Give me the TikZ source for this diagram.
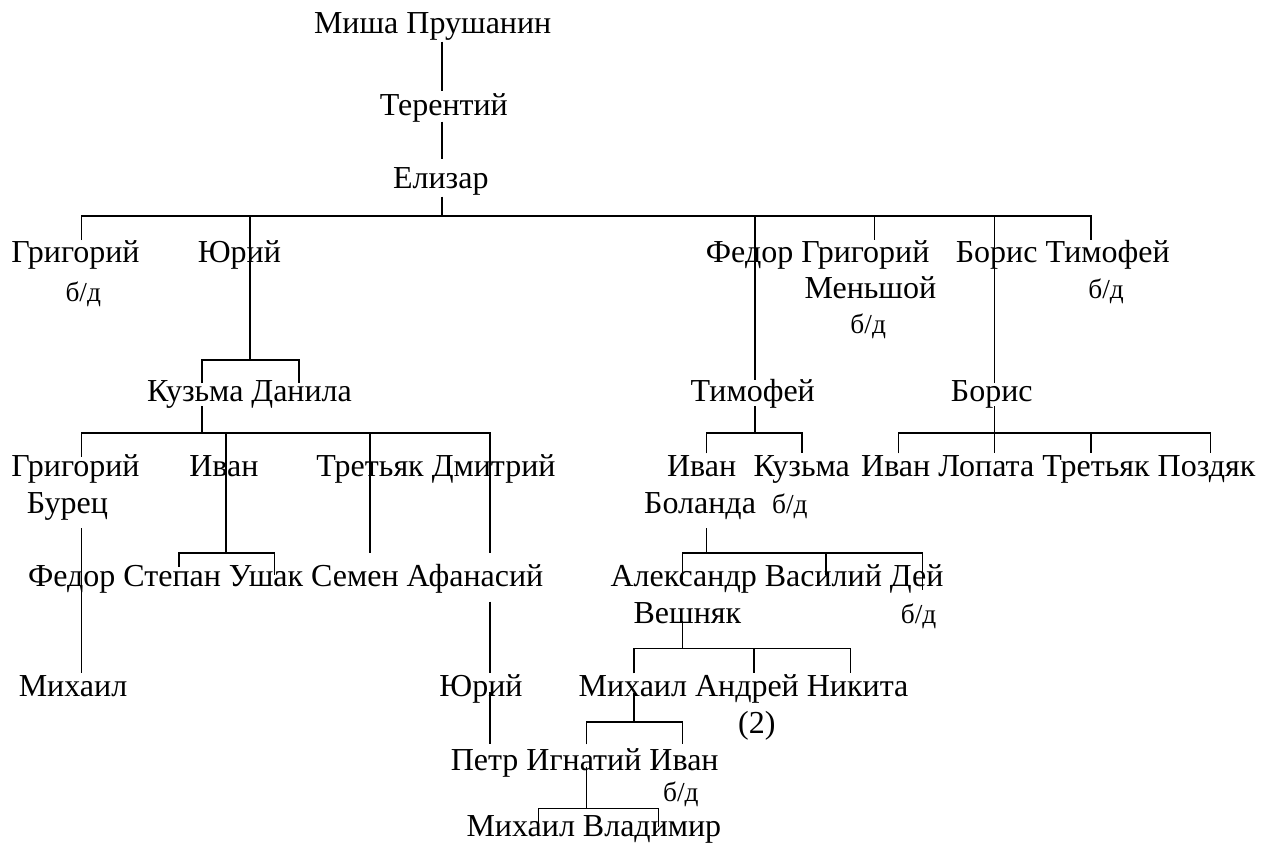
\documentclass[tikz,border=0pt]{standalone}
\usepackage{fontspec}
\setmainfont{Liberation Serif}
\begin{document}
\begin{tikzpicture}[x=0.5pt,y=-0.5pt,
  nm/.style={anchor=base,inner sep=0pt,font=\fontsize{16}{19}\selectfont},
  bd/.style={anchor=base,inner sep=0pt,font=\fontsize{13.7}{16}\selectfont},
  ln/.style={line width=0.8pt}]
\useasboundingbox (0,0) rectangle (1271,848);
% texts
\node[nm] (t1) at (432.7,33.3) {Миша Прушанин};
\node[nm] (t2) at (443.8,115) {Терентий};
\node[nm] (t3) at (440.8,188) {Елизар};
\node[nm] (r2a) at (75.5,262) {Григорий};
\node[bd] (r2abd) at (83.3,301) {б/д};
\node[nm] (r2b) at (239.4,262) {Юрий};
\node[nm] (r2c) at (817.7,262) {Федор Григорий};
\node[nm] (r2d) at (870.4,298) {Меньшой};
\node[bd] (r2dbd) at (868.2,333) {б/д};
\node[nm] (r2e) at (1062.8,262) {Борис Тимофей};
\node[bd] (r2ebd) at (1106.1,298) {б/д};
\node[nm] (r3a) at (249.5,401.7) {Кузьма Данила};
\node[nm] (r3b) at (752.7,401.7) {Тимофей};
\node[nm] (r3c) at (991.8,401.7) {Борис};
\node[nm] (r4a) at (75.5,476.7) {Григорий};
\node[nm] (r4a2) at (67.4,513.3) {Бурец};
\node[nm] (r4b) at (223.9,476.7) {Иван};
\node[nm] (r4c) at (436,476.7) {Третьяк Дмитрий};
\node[nm] (r4d) at (701.6,476.7) {Иван};
\node[nm] (r4e) at (801.7,476.7) {Кузьма};
\node[nm] (r4f) at (1058.3,476.7) {Иван Лопата Третьяк Поздяк};
\node[nm] (r4g) at (700.1,513.3) {Боланда};
\node[bd] (r4gbd) at (789.8,513.3) {б/д};
\node[nm] (r5a) at (285.7,586.7) {Федор Степан Ушак Семен Афанасий};
\node[nm] (r5b) at (777,586.7) {Александр Василий Дей};
\node[nm] (r5c) at (687.4,623.3) {Вешняк};
\node[bd] (r5d) at (918.6,623.3) {б/д};
\node[nm] (r6a) at (73,696.7) {Михаил};
\node[nm] (r6b) at (481,696.7) {Юрий};
\node[nm] (r6c) at (743.5,696.7) {Михаил Андрей Никита};
\node[nm] (r6d) at (756.9,733.3) {(2)};
\node[nm] (r7) at (584.7,770) {Петр Игнатий Иван};
\node[bd] (r7bd) at (680.9,801.7) {б/д};
\node[nm] (r8) at (593.9,836.7) {Михаил Владимир};
% connectors
\draw[ln] (442,41.7) -- (442,90.7);
\draw[ln] (442,121.7) -- (442,159);
\draw[ln] (442,196.7) -- (442,216);
\draw[ln] (81.6,240) -- (81.6,216) -- (1090.7,216) -- (1090.7,240);
\draw[ln] (249.8,216) -- (249.8,360);
\draw[ln] (754.7,216) -- (754.7,380);
\draw[ln] (874.5,216) -- (874.5,240);
\draw[ln] (994.3,216) -- (994.3,383);
\draw[ln] (202,383) -- (202,360) -- (298.8,360) -- (298.8,383);
\draw[ln] (202,406) -- (202,432.7);
\draw[ln] (81.6,456.7) -- (81.6,432.7) -- (489.8,432.7) -- (489.8,552.7);
\draw[ln] (225.7,432.7) -- (225.7,552.7);
\draw[ln] (370.2,432.7) -- (370.2,552.7);
\draw[ln] (178.8,567) -- (178.8,552.7) -- (274.3,552.7) -- (274.3,575);
\draw[ln] (81.6,528.3) -- (81.6,673);
\draw[ln] (489.8,601.7) -- (489.8,673.3);
\draw[ln] (489.8,692) -- (489.8,744.3);
\draw[ln] (754.7,406) -- (754.7,432.7);
\draw[ln] (706.5,453.3) -- (706.5,432.7) -- (801.7,432.7) -- (801.7,453.3);
\draw[ln] (994.3,406) -- (994.3,453.3);
\draw[ln] (898.6,453.3) -- (898.6,432.7) -- (1210.5,432.7) -- (1210.5,453.3);
\draw[ln] (1090.7,432.7) -- (1090.7,453.3);
\draw[ln] (706.5,528.3) -- (706.5,552.7);
\draw[ln] (682.3,580) -- (682.3,552.7) -- (922.3,552.7) -- (922.3,590);
\draw[ln] (826.2,552.7) -- (826.2,575);
\draw[ln] (682.4,621) -- (682.4,648.3);
\draw[ln] (634.2,673.3) -- (634.2,648.3) -- (850.4,648.3) -- (850.4,673.3);
\draw[ln] (754,648.3) -- (754,673.3);
\draw[ln] (634.2,693) -- (634.2,721.7);
\draw[ln] (586.4,744.3) -- (586.4,721.7) -- (682.4,721.7) -- (682.4,744.3);
\draw[ln] (586.4,766.7) -- (586.4,808.3);
\draw[ln] (538.5,826.7) -- (538.5,808.3) -- (658.3,808.3) -- (658.3,826.7);
\end{tikzpicture}
\end{document}
